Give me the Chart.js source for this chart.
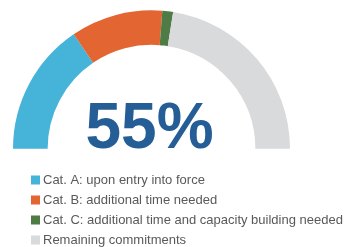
<!DOCTYPE html>
<html>
<head>
<meta charset="utf-8">
<script src="https://cdn.jsdelivr.net/npm/chart.js@4/dist/chart.umd.min.js"></script>
<style>
  html, body { margin: 0; padding: 0; background: #fff; }
  #wrap { width: 353px; height: 247px; position: relative; }
</style>
</head>
<body>
<div id="wrap"><canvas id="gauge"></canvas></div>
<script>
const categories = [
  "Cat. A: upon entry into force",
  "Cat. B: additional time needed",
  "Cat. C: additional time and capacity building needed",
  "Remaining commitments"
];
const shares = [31, 21.5, 2.5, 45];
const colours = ["#46B3D9", "#E36532", "#4F7B45", "#D9DADB"];
const centreLabel = "55%";

// draws the big percentage and the vertical legend
const extras = {
  id: "extras",
  afterDraw(chart) {
    const c = chart.ctx;
    const arc = chart.getDatasetMeta(0).data[0];
    c.save();
    c.fillStyle = "#255E96";
    c.font = "bold 64px 'Liberation Sans', Arial, sans-serif";
    c.textAlign = "center";
    c.textBaseline = "alphabetic";
    c.fillText(centreLabel, arc.x - 2, arc.y - 1);

    c.font = "13px 'Liberation Sans', Arial, sans-serif";
    c.textAlign = "left";
    c.textBaseline = "middle";
    chart.data.labels.forEach((lab, i) => {
      const y = 180 + i * 20;
      c.fillStyle = chart.data.datasets[0].backgroundColor[i];
      c.fillRect(31, y - 4.5, 9, 9);
      c.fillStyle = "#595959";
      c.fillText(lab, 43, y + 0.5);
    });
    c.restore();
  }
};

new Chart(document.getElementById("gauge"), {
  type: "doughnut",
  data: {
    labels: categories,
    datasets: [{
      data: shares,
      backgroundColor: colours,
      borderWidth: 0
    }]
  },
  options: {
    responsive: true,
    maintainAspectRatio: false,
    animation: false,
    rotation: -90,
    circumference: 180,
    cutout: "75%",
    layout: { padding: { left: 13, right: 63, top: 10, bottom: 98 } },
    plugins: {
      legend: { display: false },
      tooltip: { enabled: false }
    }
  },
  plugins: [extras]
});
</script>
</body>
</html>
